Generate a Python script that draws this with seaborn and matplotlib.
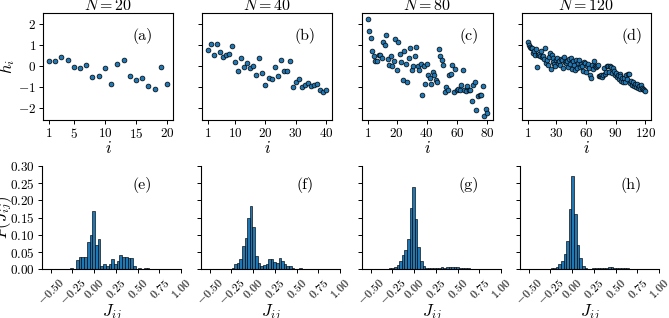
"""
Local fields h_i and coupling distributions P(J_ij) for four system sizes
"""
import numpy as np
import pandas as pd
import matplotlib
matplotlib.use("Agg")
import matplotlib.pyplot as plt
import seaborn as sns

# ---- data ----
sizes = [20, 40, 80, 120]
top_letters = ["(a)", "(b)", "(c)", "(d)"]
bottom_letters = ["(e)", "(f)", "(g)", "(h)"]
top_xticks = [[1, 5, 10, 15, 20], [1, 10, 20, 30, 40],
              [1, 20, 40, 60, 80], [1, 30, 60, 90, 120]]

h_20 = [0.26, 0.22, 0.42, 0.29, -0.03, -0.08, 0.05, -0.53, -0.46, -0.11,
        -0.85, 0.11, 0.29, -0.50, -0.67, -0.56, -0.96, -1.12, -0.05, -0.86]

h_40 = [0.77, 1.04, 0.51, 1.07, 0.69, 0.45, 0.53, 0.59, 0.96, 0.18,
        -0.24, 0.37, -0.06, 0.16, -0.08, 0.00, -0.43, 0.37, -0.32, -0.90,
        -0.56, -0.62, -0.05, -0.46, 0.30, -0.26, -0.26, 0.22, -1.01, -0.75,
        -0.64, -1.01, -0.93, -0.82, -0.96, -0.90, -0.85, -1.18, -1.23, -1.18]

h_80 = [2.27, 1.66, 1.36, 0.72, 0.46, 0.22, 0.24, 0.54, 0.51, 0.40,
        1.15, 0.99, 1.50, 0.35, 0.06, 0.46, 0.00, 0.26, 1.31, -0.21,
        1.15, 0.58, 0.19, -0.66, 0.70, 0.08, -0.75, 0.37, 0.85, -0.21,
        -0.02, 0.50, 0.91, 0.00, -0.19, 0.11, -1.41, 0.00, -0.86, 0.11,
        -0.42, -0.59, -0.86, -0.29, -0.45, -0.66, -0.78, 0.80, 0.50, 0.27,
        0.06, -1.23, -1.01, -1.18, -0.42, -0.38, 0.06, -1.23, -0.14, -1.18,
        -1.09, -1.17, -0.93, -0.18, -1.14, -1.22, -0.96, -1.14, -1.15, -1.68,
        -0.91, -0.77, -2.13, -1.46, -1.38, -1.38, -0.96, -2.40, -2.05, -2.24]

h_120 = [1.14, 1.00, 0.93, 0.87, 0.85, 0.62, 0.72, 0.55, 0.80, -0.03,
         0.55, 0.60, 0.48, 0.70, 0.42, 0.50, 0.35, 0.88, 0.12, 0.30,
         0.05, 0.45, 0.62, -0.16, 0.55, 0.38, 0.20, 0.10, 0.02, 0.30,
         0.40, 0.15, 0.22, 0.05, 0.35, 0.28, -0.10, 0.42, 0.18, 0.12,
         0.25, -0.05, 0.35, 0.10, 0.40, -0.15, 0.22, 0.05, -0.20, 0.30,
         -0.08, 0.15, 0.28, -0.05, 0.10, 0.02, -0.22, 0.18, 0.12, -0.30,
         0.00, 0.08, -0.10, -0.45, -0.60, 0.05, -0.15, 0.25, 0.02, -0.05,
         -0.02, 0.06, -0.48, -0.50, -0.42, -0.55, -0.45, -0.10, -0.38, -0.30,
         0.02, 0.00, -0.30, 0.02, -0.05, -0.35, -0.10, -0.25, -0.42, -0.35,
         -0.55, -0.45, -0.62, -0.40, -0.50, -0.70, -0.58, -0.75, -0.60, -0.78,
         -0.45, -0.65, -0.38, -0.40, -0.82, -0.70, -0.90, -0.75, -0.95, -0.85,
         -1.00, -0.88, -1.05, -0.95, -1.10, -0.90, -1.05, -1.12, -1.18, -1.22]

# histogram bins: first edge, bin width, bar heights
bin_start = [-0.272, -0.4875, -0.3225, -0.3075]
bin_width = [0.0313, 0.03, 0.03, 0.03]

p_20 = [0.005, 0.0, 0.027, 0.037, 0.037, 0.037, 0.078, 0.099, 0.169, 0.072,
        0.088, 0.009, 0.015, 0.010, 0.015, 0.030, 0.015, 0.025, 0.041, 0.037,
        0.035, 0.032, 0.032, 0.010, 0.0, 0.005, 0.0, 0.005, 0.005, 0.0, 0.0]

p_40 = [0.0, 0.002, 0.0, 0.0, 0.0, 0.002, 0.0, 0.002, 0.004, 0.015,
        0.017, 0.030, 0.067, 0.090, 0.148, 0.184, 0.124, 0.040, 0.017, 0.010,
        0.012, 0.015, 0.030, 0.030, 0.020, 0.018, 0.032, 0.025, 0.015, 0.010,
        0.010, 0.003, 0.001, 0.002, 0.003, 0.002, 0.0, 0.0]

p_80 = [0.002, 0.003, 0.005, 0.008, 0.012, 0.025, 0.041, 0.056, 0.087, 0.177,
        0.240, 0.146, 0.066, 0.025, 0.010, 0.004, 0.003, 0.005, 0.005, 0.005,
        0.005, 0.006, 0.005, 0.006, 0.007, 0.008, 0.006, 0.006, 0.005, 0.005,
        0.004, 0.003, 0.002, 0.001, 0.001]

p_120 = [0.001, 0.002, 0.003, 0.005, 0.008, 0.015, 0.025, 0.044, 0.083, 0.174,
         0.270, 0.162, 0.070, 0.032, 0.010, 0.004, 0.002, 0.002, 0.003, 0.003,
         0.004, 0.004, 0.005, 0.005, 0.006, 0.006, 0.005, 0.005, 0.004, 0.004,
         0.003, 0.003, 0.002, 0.001]

h_all = [h_20, h_40, h_80, h_120]
p_all = [p_20, p_40, p_80, p_120]

# ---- style ----
sns.set_style("ticks")
plt.rcParams.update({
    "font.family": "serif",
    "font.serif": ["cmr10"],
    "mathtext.fontset": "cm",
    "axes.formatter.use_mathtext": True,
    "axes.edgecolor": "black",
    "text.color": "black",
    "axes.labelcolor": "black",
    "xtick.color": "black",
    "ytick.color": "black",
    "axes.linewidth": 0.8,
})

BLUE = "#1f77b4"
W, H = 669, 318
fig = plt.figure(figsize=(W / 100, H / 100), dpi=100)


def px_axes(left, top, width, height):
    return fig.add_axes([left / W, 1 - (top + height) / H, width / W, height / H])


top_left = [43, 202, 362, 522]
top_width = [130, 130, 131, 129]
bot_left = [42, 201, 362, 520]
top_letter_x = [0.765, 0.79, 0.82, 0.85]
bot_letter_x = [0.72, 0.75, 0.77, 0.80]

for k, N in enumerate(sizes):
    # top row: h_i vs i
    ax = px_axes(top_left[k], 13, top_width[k], 107)
    idx = np.arange(1, N + 1)
    sns.scatterplot(x=idx, y=h_all[k], ax=ax, s=12, color=BLUE,
                    edgecolor="black", linewidth=0.5, zorder=3)
    ax.set_ylim(-2.6, 2.55)
    ax.set_xticks(top_xticks[k])
    ax.set_yticks([-2, -1, 0, 1, 2])
    ax.tick_params(labelsize=9.5, length=3, width=0.7, pad=2)
    ax.set_xlabel("$i$", fontsize=12)
    ax.xaxis.set_label_coords(0.5, -0.185)
    ax.set_title(f"$N = {N}$", fontsize=11.5, pad=1.5)
    ax.text(top_letter_x[k], 0.785, top_letters[k], transform=ax.transAxes,
            ha="center", va="center", fontsize=11.5)
    if k == 0:
        ax.set_ylabel("$h_i$", fontsize=12)
        ax.yaxis.set_label_coords(-0.2, 0.5)
    else:
        ax.tick_params(labelleft=False)

    # bottom row: histogram of couplings
    bx = px_axes(bot_left[k], 166, 139, 103.3)
    heights = np.array(p_all[k])
    edges = bin_start[k] + bin_width[k] * np.arange(len(heights) + 1)
    centers = 0.5 * (edges[:-1] + edges[1:])
    df = pd.DataFrame({"J": centers, "P": heights})
    sns.histplot(data=df, x="J", weights="P", bins=edges.tolist(), ax=bx,
                 color=BLUE, edgecolor="black", linewidth=0.45, alpha=1)
    bx.set_xlim(-0.6, 1.0)
    bx.set_ylim(0, 0.30)
    bx.set_xticks([-0.5, -0.25, 0.0, 0.25, 0.5, 0.75, 1.0])
    bx.set_yticks([0.0, 0.05, 0.10, 0.15, 0.20, 0.25, 0.30])
    bx.tick_params(length=3, width=0.7, pad=2)
    bx.tick_params(axis="x", labelsize=8.5, labelrotation=45)
    bx.tick_params(axis="y", labelsize=9.5)
    sns.despine(ax=bx)
    bx.set_xlabel("$J_{ij}$", fontsize=12)
    bx.xaxis.set_label_coords(0.5, -0.315)
    bx.text(bot_letter_x[k], 0.82, bottom_letters[k], transform=bx.transAxes,
            ha="center", va="center", fontsize=11.5)
    if k == 0:
        bx.set_ylabel("$P(J_{ij})$", fontsize=12)
        bx.yaxis.set_label_coords(-0.2, 0.5)
    else:
        bx.set_ylabel("")
        bx.tick_params(labelleft=False)

fig.savefig("out.png", dpi=100)
